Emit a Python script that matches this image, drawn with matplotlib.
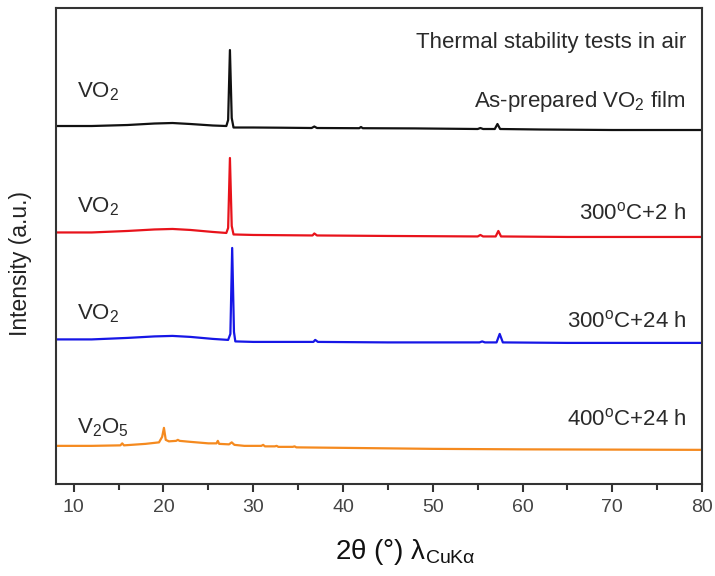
"""
XRD patterns of VO2 films after thermal stability tests in air
"""

import matplotlib
matplotlib.use("Agg")
import matplotlib.pyplot as plt
from matplotlib.ticker import MultipleLocator

plt.rcParams["font.family"] = ["Liberation Sans", "DejaVu Sans"]
plt.rcParams["mathtext.fontset"] = "custom"
plt.rcParams["mathtext.rm"] = "Liberation Sans"
plt.rcParams["mathtext.it"] = "Liberation Sans:italic"
plt.rcParams["mathtext.sf"] = "Liberation Sans"

# stacked patterns (2theta, intensity in a.u. incl. vertical offset)
asprep_x = [8.0, 12, 16, 19, 21, 23, 25.5, 27.0, 27.2, 27.4, 27.6, 27.8, 30, 33, 36.5, 36.8,
            37.1, 41.8, 42.0, 42.2, 48, 55.0, 55.3, 55.6, 56.9, 57.2, 57.5, 62, 70, 80]
asprep_y = [358, 358, 359, 360.5, 361, 360, 358.5, 358, 364, 434, 366, 356.5, 356.5, 356.3, 356,
            357.5, 356, 355.8, 357, 355.8, 355.6, 355, 356, 355, 355, 360, 355, 354.5, 354, 354]

h2_x = [8.0, 12, 16, 19, 21, 23, 25.5, 27.0, 27.2, 27.4, 27.6, 27.8, 30, 36.6, 36.8, 37.1,
        45, 55.0, 55.3, 55.6, 57.0, 57.3, 57.6, 65, 80]
h2_y = [251.5, 251.5, 253, 254.5, 255, 254, 252, 251, 256, 326, 258, 249.5, 249, 248.5, 250.5,
        248.5, 248, 247.5, 249, 247.5, 247.5, 253, 247.5, 247, 247]

h24_x = [8.0, 12, 16, 19, 21, 23, 25.5, 27.2, 27.45, 27.65, 27.85, 28.0, 30, 36.7, 36.9, 37.2,
         45, 55.2, 55.5, 55.8, 57.1, 57.45, 57.8, 65, 80]
h24_y = [144.5, 144.5, 146, 147.5, 148, 147, 145, 144, 150, 236, 152, 142.5, 142, 142, 144,
         142, 141.5, 141.5, 142.5, 141.5, 141.5, 150, 141.5, 141, 141]

t400_x = [8.0, 12, 15.2, 15.4, 15.6, 18, 19.5, 19.85, 20.05, 20.25, 20.6, 21.4, 21.6, 21.8, 23,
          25, 25.9, 26.05, 26.2, 27.3, 27.6, 27.9, 29, 30.9, 31.1, 31.3, 32.4, 32.6, 32.8,
          34.4, 34.6, 34.8, 40, 50, 60, 80]
t400_y = [38, 38, 38.5, 40.5, 38.5, 40, 41.5, 47, 56, 44, 42.5, 43, 44, 43, 42, 40.5, 40.5, 43,
          40, 39.5, 41.5, 39, 38, 38, 39, 37.5, 37.5, 38, 37, 37, 37.5, 36.5, 36, 35, 34.5, 34]

phases = ["VO$_2$", "VO$_2$", "VO$_2$", "V$_2$O$_5$"]
conditions = ["As-prepared VO$_2$ film", "300$^{\\rm o}$C+2 h", "300$^{\\rm o}$C+24 h",
              "400$^{\\rm o}$C+24 h"]
colors = ["#111111", "#e8131b", "#1616e6", "#f58a1f"]

fig = plt.figure(figsize=(7.15, 5.76), dpi=100)
ax = fig.add_axes([0.078, 0.160, 0.904, 0.826])

series = [(asprep_x, asprep_y), (h2_x, h2_y), (h24_x, h24_y), (t400_x, t400_y)]
for (x, y), c in zip(series, colors):
    ax.plot(x, y, color=c, lw=1.6)

ax.set_xlim(8, 80)
ax.set_ylim(0, 476)
ax.xaxis.set_major_locator(MultipleLocator(10))
ax.xaxis.set_minor_locator(MultipleLocator(5))
ax.tick_params(axis="x", which="major", direction="out", length=6, width=1.5,
               labelsize=14, colors="#333333", labelcolor="#444444", pad=5)
ax.tick_params(axis="x", which="minor", direction="out", length=4, width=1.5, colors="#333333")
ax.set_yticks([])
for s in ax.spines.values():
    s.set_linewidth(1.5)
    s.set_color("#333333")

ax.set_ylabel("Intensity (a.u.)", fontsize=16.5, color="#222222")
ax.yaxis.set_label_coords(-0.037, 0.464)
ax.set_xlabel(r"2θ (°) λ$_{\mathrm{CuKα}}$", fontsize=20, color="#111111")
ax.xaxis.set_label_coords(0.54, -0.112)

txt = dict(fontsize=16, color="#2a2a2a")
left_y = [392, 277, 170, 56]
for lab, yy in zip(phases, left_y):
    ax.text(10.4, yy, lab, ha="left", va="center", **txt)

ax.text(78.2, 442, "Thermal stability tests in air", ha="right", va="center", **txt)
right_y = [383, 271, 163, 64]
for lab, yy in zip(conditions, right_y):
    ax.text(78.2, yy, lab, ha="right", va="center", **txt)

fig.savefig("out.png", dpi=100)
